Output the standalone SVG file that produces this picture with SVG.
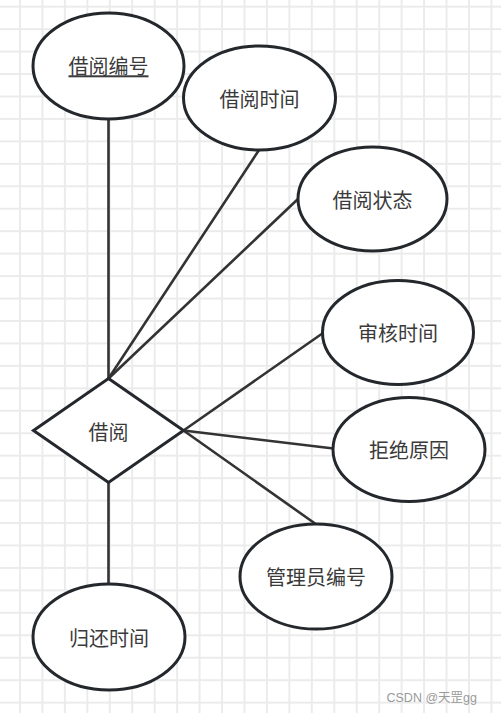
<svg xmlns="http://www.w3.org/2000/svg" width="501" height="713" viewBox="0 0 501 713">
<defs>
<pattern id="grid" patternUnits="userSpaceOnUse" x="19" y="5.7" width="22.45" height="22.45">
<path d="M1 0V22.45M0 1H22.45" stroke="#ebebeb" stroke-width="2" fill="none"/>
</pattern>
<style>
.shape{fill:#ffffff;stroke:#24282c;stroke-width:3}
.conn{stroke:#333333;stroke-width:2.6;fill:none;stroke-linecap:round}
.lbl{font-family:"Noto Sans CJK SC","Microsoft YaHei",sans-serif;font-size:20px;fill:#3a3a3a;text-anchor:middle}
.wm{font-family:"Liberation Sans","Noto Sans CJK SC",sans-serif;font-size:12.5px;fill:#9a9a9a;text-anchor:end}
</style>
</defs>
<rect width="501" height="713" fill="#ffffff"/>
<rect width="501" height="713" fill="url(#grid)"/>
<g id="connectors">
<line class="conn" x1="108.5" y1="119" x2="108.5" y2="378.5"/>
<line class="conn" x1="259" y1="150" x2="108.5" y2="378.5"/>
<line class="conn" x1="298.5" y1="198.5" x2="108.5" y2="378.5"/>
<line class="conn" x1="323" y1="333" x2="183.5" y2="430.5"/>
<line class="conn" x1="333.5" y1="448.5" x2="183.5" y2="430.5"/>
<line class="conn" x1="315" y1="523.5" x2="183.5" y2="430.5"/>
<line class="conn" x1="108.5" y1="482.5" x2="108.5" y2="584"/>
</g>
<g id="node-jieyuebianhao">
<ellipse class="shape" cx="108.5" cy="66" rx="75.5" ry="53"/>
<text class="lbl" x="108.5" y="74.3" text-decoration="underline">借阅编号</text>
</g>
<g id="node-jieyueshijian">
<ellipse class="shape" cx="259.5" cy="98" rx="76" ry="52"/>
<text class="lbl" x="259.5" y="106.6">借阅时间</text>
</g>
<g id="node-jieyuezhuangtai">
<ellipse class="shape" cx="372.5" cy="199" rx="74.5" ry="52"/>
<text class="lbl" x="372.5" y="207.6">借阅状态</text>
</g>
<g id="node-shenheshijian">
<ellipse class="shape" cx="398" cy="332.5" rx="75.5" ry="52"/>
<text class="lbl" x="398" y="341">审核时间</text>
</g>
<g id="node-jujueyuanyin">
<ellipse class="shape" cx="409" cy="449.5" rx="76" ry="52"/>
<text class="lbl" x="409" y="458">拒绝原因</text>
</g>
<g id="node-guanliyuanbianhao">
<ellipse class="shape" cx="316" cy="576.5" rx="76" ry="52.5"/>
<text class="lbl" x="316" y="585">管理员编号</text>
</g>
<g id="node-guihuanshijian">
<ellipse class="shape" cx="109" cy="637" rx="76" ry="53"/>
<text class="lbl" x="109" y="645.5">归还时间</text>
</g>
<g id="node-jieyue">
<polygon class="shape" points="108.5,378.5 183.5,430.5 108.5,482.5 33.5,430.5"/>
<text class="lbl" x="108.5" y="439.6">借阅</text>
</g>
<text class="wm" x="477" y="702">CSDN @天罡gg</text>
</svg>
